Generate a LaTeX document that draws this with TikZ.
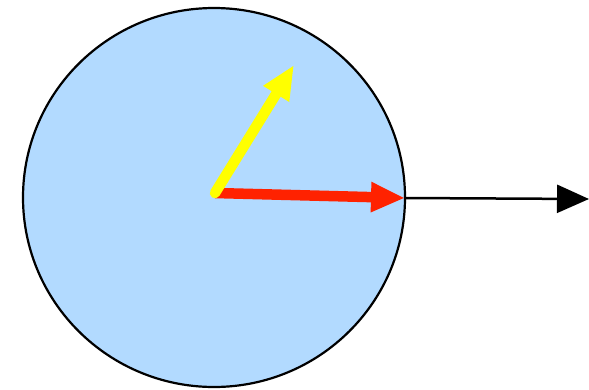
\documentclass[tikz,border=0pt]{standalone}
\usetikzlibrary{arrows.meta}
\definecolor{ballblue}{RGB}{178,218,255}
\definecolor{vred}{RGB}{255,34,0}
\definecolor{vyellow}{RGB}{255,255,0}
\tikzset{
  ball/.style={draw=black, line width=2.2pt, fill=ballblue},
  fatarrow/.style={line width=10.5pt, -{Triangle[length=34pt,width=28pt]}},
  thinarrow/.style={draw=black, line width=2.5pt, -{Triangle[length=32pt,width=28pt]}}
}
\begin{document}
\begin{tikzpicture}[x=1pt,y=-1pt]
\useasboundingbox (0,0) rectangle (589,389);
\coordinate (c) at (214,197.5);
\coordinate (o) at (215,193);
\coordinate (ytip) at (294,65);
\coordinate (rtip) at (405,198);
\coordinate (btip) at (589,199);
\draw[ball] (c) ellipse [x radius=191, y radius=189.5];
\draw[thinarrow] (rtip) -- (btip);
\draw[fatarrow, draw=vred, fill=vred] (o) -- (rtip);
\draw[fatarrow, draw=vyellow, fill=vyellow, line cap=round] (o) -- (ytip);
\end{tikzpicture}
\end{document}
